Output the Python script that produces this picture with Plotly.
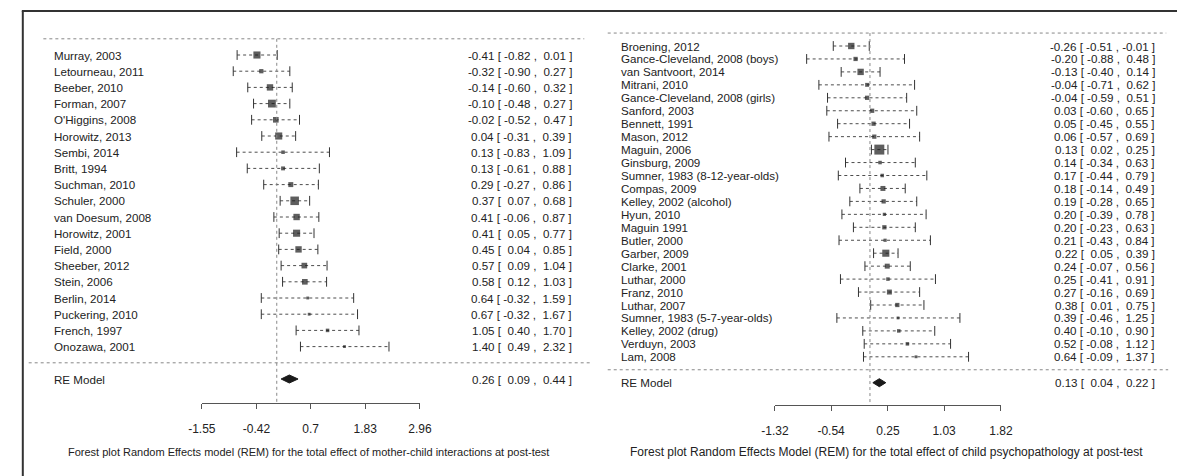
import plotly.graph_objects as go

W, H = 1189, 476

# ---------------- data: left panel (mother-child interactions) ----------------
left_studies = ["Murray, 2003", "Letourneau, 2011", "Beeber, 2010", "Forman, 2007",
                "O'Higgins, 2008", "Horowitz, 2013", "Sembi, 2014", "Britt, 1994",
                "Suchman, 2010", "Schuler, 2000", "van Doesum, 2008", "Horowitz, 2001",
                "Field, 2000", "Sheeber, 2012", "Stein, 2006", "Berlin, 2014",
                "Puckering, 2010", "French, 1997", "Onozawa, 2001"]
left_est = [-0.41, -0.32, -0.14, -0.10, -0.02, 0.04, 0.13, 0.13, 0.29, 0.37,
            0.41, 0.41, 0.45, 0.57, 0.58, 0.64, 0.67, 1.05, 1.40]
left_lo = [-0.82, -0.90, -0.60, -0.48, -0.52, -0.31, -0.83, -0.61, -0.27, 0.07,
           -0.06, 0.05, 0.04, 0.09, 0.12, -0.32, -0.32, 0.40, 0.49]
left_hi = [0.01, 0.27, 0.32, 0.27, 0.47, 0.39, 1.09, 0.88, 0.86, 0.68,
           0.87, 0.77, 0.85, 1.04, 1.03, 1.59, 1.67, 1.70, 2.32]
left_weights = [6.9, 2.5, 5.6, 8.4, 4.4, 6.9, 1.7, 2.1, 3.4, 10.0,
                5.6, 6.9, 5.6, 4.4, 4.4, 1.1, 1.1, 1.7, 1.1]
left_re = [0.26, 0.09, 0.44]
left_ticks = [-1.55, -0.42, 0.7, 1.83, 2.96]
left_ticktext = ["-1.55", "-0.42", "0.7", "1.83", "2.96"]
left_caption = ("Forest plot Random Effects model (REM) for the total effect of "
                "mother-child interactions at post-test")

# ---------------- data: right panel (child psychopathology) ----------------
right_studies = ["Broening, 2012", "Gance-Cleveland, 2008 (boys)", "van Santvoort, 2014",
                 "Mitrani, 2010", "Gance-Cleveland, 2008 (girls)", "Sanford, 2003",
                 "Bennett, 1991", "Mason, 2012", "Maguin, 2006", "Ginsburg, 2009",
                 "Sumner, 1983 (8-12-year-olds)", "Compas, 2009", "Kelley, 2002 (alcohol)",
                 "Hyun, 2010", "Maguin 1991", "Butler, 2000", "Garber, 2009",
                 "Clarke, 2001", "Luthar, 2000", "Franz, 2010", "Luthar, 2007",
                 "Sumner, 1983 (5-7-year-olds)", "Kelley, 2002 (drug)", "Verduyn, 2003",
                 "Lam, 2008"]
right_est = [-0.26, -0.20, -0.13, -0.04, -0.04, 0.03, 0.05, 0.06, 0.13, 0.14,
             0.17, 0.18, 0.19, 0.20, 0.20, 0.21, 0.22, 0.24, 0.25, 0.27,
             0.38, 0.39, 0.40, 0.52, 0.64]
right_lo = [-0.51, -0.88, -0.40, -0.71, -0.59, -0.60, -0.45, -0.57, 0.02, -0.34,
            -0.44, -0.14, -0.28, -0.39, -0.23, -0.43, 0.05, -0.07, -0.41, -0.16,
            0.01, -0.46, -0.10, -0.08, -0.09]
right_hi = [-0.01, 0.48, 0.14, 0.62, 0.51, 0.65, 0.55, 0.69, 0.25, 0.63,
            0.79, 0.49, 0.65, 0.78, 0.63, 0.84, 0.39, 0.56, 0.91, 0.69,
            0.75, 1.25, 0.90, 1.12, 1.37]
right_weights = [5.6, 2.5, 5.6, 2.1, 2.5, 2.5, 2.5, 2.5, 13.6, 1.7,
                 1.7, 3.4, 2.5, 1.4, 2.5, 1.4, 6.9, 3.4, 1.7, 3.4,
                 2.5, 1.1, 1.7, 1.7, 1.1]
right_re = [0.13, 0.04, 0.22]
right_ticks = [-1.32, -0.54, 0.25, 1.03, 1.82]
right_ticktext = ["-1.32", "-0.54", "0.25", "1.03", "1.82"]
right_caption = ("Forest plot Random Effects Model (REM) for the total effect of "
                 "child psychopathology at post-test")

FONT = "Arial, 'Liberation Sans', sans-serif"
TXT = "#222222"
LINE = "#4d4d4d"
PAD = "\u2008"  # punctuation space, roughly the width of a minus sign


def num(v):
    s = f"{v:.2f}"
    return s if v < 0 else PAD + s


def ci_text(e, l, h):
    return f"{e:.2f} [ {num(l)} , {num(h)} ]"


fig = go.Figure()
annotations = []
shapes = []


def panel(names, est, lo, hi, weights, re, caption, xa, ya,
          name_x, val_x, cap_x, row_top, row_step, axis_px, fs, cap_fs):
    n = len(names)
    ys = [n - i for i in range(n)]
    lx, ly = [], []
    for l, h, y in zip(lo, hi, ys):
        lx += [l, h, None]
        ly += [y, y, None]
    fig.add_trace(go.Scatter(x=lx, y=ly, mode="lines", xaxis=xa, yaxis=ya,
                             line=dict(color=LINE, width=1, dash="dot"),
                             hoverinfo="skip", showlegend=False, cliponaxis=False))
    fig.add_trace(go.Scatter(x=list(lo) + list(hi), y=ys + ys, mode="markers",
                             xaxis=xa, yaxis=ya,
                             marker=dict(symbol="line-ns", size=7,
                                         line=dict(width=1, color="#333333")),
                             hoverinfo="skip", showlegend=False, cliponaxis=False))
    fig.add_trace(go.Scatter(x=est, y=ys, mode="markers", xaxis=xa, yaxis=ya,
                             marker=dict(symbol="square", color="#1a1a1a",
                                         size=[2.7 * w ** 0.5 for w in weights],
                                         line=dict(width=0)),
                             hoverinfo="skip", showlegend=False, cliponaxis=False))
    e, l, h = re
    dh = 4.0 / row_step
    fig.add_trace(go.Scatter(x=[l, e, h, e, l], y=[-1, -1 + dh, -1, -1 - dh, -1],
                             mode="lines", fill="toself", fillcolor="#1a1a1a",
                             line=dict(color="#1a1a1a", width=1),
                             xaxis=xa, yaxis=ya, hoverinfo="skip",
                             showlegend=False, cliponaxis=False))
    f = dict(family=FONT, size=fs, color=TXT)
    for nm, y in zip(names, ys):
        annotations.append(dict(text=nm, x=name_x / W, xref="paper", y=y, yref=ya,
                                xanchor="left", yanchor="middle", showarrow=False, font=f))
    for ee, ll, hh, y in zip(est, lo, hi, ys):
        annotations.append(dict(text=ci_text(ee, ll, hh),
                                x=val_x / W, xref="paper", y=y, yref=ya,
                                xanchor="right", yanchor="middle", showarrow=False, font=f))
    annotations.append(dict(text="RE Model", x=name_x / W, xref="paper", y=-1, yref=ya,
                            xanchor="left", yanchor="middle", showarrow=False, font=f))
    annotations.append(dict(text=ci_text(e, l, h), x=val_x / W,
                            xref="paper", y=-1, yref=ya, xanchor="right",
                            yanchor="middle", showarrow=False, font=f))
    annotations.append(dict(text=caption, x=cap_x / W, xref="paper", y=1 - 452 / H,
                            yref="paper", xanchor="center", yanchor="middle",
                            showarrow=False, font=dict(family=FONT, size=cap_fs, color=TXT)))
    axis_y = n - (axis_px - row_top) / row_step
    return n, axis_y


nL, axL = panel(left_studies, left_est, left_lo, left_hi, left_weights, left_re,
                left_caption, "x", "y", 39, 573, 301, 55, 16.2, 403, 11.6, 11)
nR, axR = panel(right_studies, right_est, right_lo, right_hi, right_weights, right_re,
                right_caption, "x2", "y2", 619, 1169, 892, 46, 12.95, 405, 11.6, 12)

dot = dict(color="#888888", width=1, dash="dot")
shapes += [
    dict(type="line", xref="paper", yref="y", x0=30 / W, x1=583 / W, y0=nL + 1, y1=nL + 1, line=dot),
    dict(type="line", xref="paper", yref="y", x0=15 / W, x1=590 / W, y0=0, y1=0, line=dot),
    dict(type="line", xref="x", yref="y", x0=0, x1=0, y0=nL + 1, y1=axL, line=dot),
    dict(type="line", xref="paper", yref="y2", x0=607 / W, x1=1178 / W, y0=nR + 1, y1=nR + 1, line=dot),
    dict(type="line", xref="paper", yref="y2", x0=607 / W, x1=1180 / W, y0=0, y1=0, line=dot),
    dict(type="line", xref="x2", yref="y2", x0=0, x1=0, y0=nR + 1, y1=axR, line=dot),
    dict(type="line", xref="paper", yref="paper", x0=8 / W, x1=1, y0=1 - 11 / H, y1=1 - 11 / H,
         line=dict(color="#333333", width=2)),
    dict(type="line", xref="paper", yref="paper", x0=9 / W, x1=9 / W, y0=1 - 11 / H, y1=0,
         line=dict(color="#333333", width=2)),
]


def xaxis(ticks, ticktext, d0, d1, pos):
    return dict(domain=[d0 / W, d1 / W], range=[ticks[0], ticks[-1]], anchor="free",
                position=pos, showline=True, linecolor="#555555", linewidth=1,
                ticks="outside", ticklen=5, tickcolor="#555555", tickwidth=1,
                tickvals=ticks, ticktext=ticktext, showgrid=False, zeroline=False,
                ticklabelstandoff=10,
                tickfont=dict(family=FONT, size=12, color=TXT), fixedrange=True)


fig.update_layout(
    width=W, height=H, margin=dict(l=0, r=0, t=0, b=0),
    paper_bgcolor="white", plot_bgcolor="rgba(0,0,0,0)", showlegend=False,
    xaxis=xaxis(left_ticks, left_ticktext, 192, 415, 1 - 403 / H),
    xaxis2=xaxis(right_ticks, right_ticktext, 778, 1009, 1 - 405 / H),
    yaxis=dict(domain=[0, 1], range=[nL - (H - 55) / 16.2, nL + 55 / 16.2],
               visible=False, anchor="free", position=0, fixedrange=True),
    yaxis2=dict(domain=[0, 1], range=[nR - (H - 46) / 12.95, nR + 46 / 12.95],
                visible=False, anchor="free", position=0, fixedrange=True),
    annotations=annotations, shapes=shapes,
)

fig.write_html("out.html", config={"displayModeBar": False},
               post_script="document.body.style.margin='0';"
                           "document.documentElement.style.overflow='hidden';")
